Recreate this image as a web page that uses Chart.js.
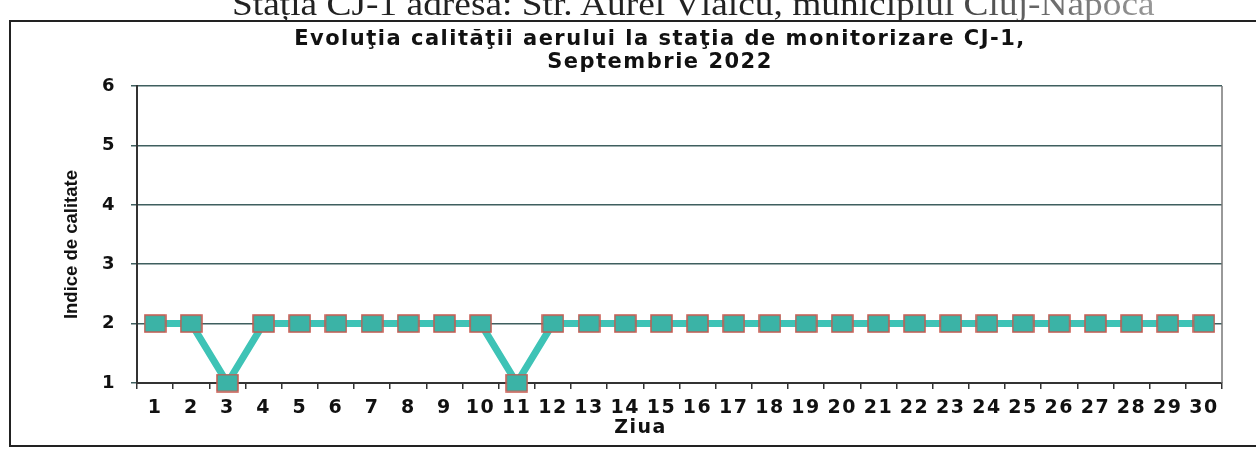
<!DOCTYPE html>
<html>
<head>
<meta charset="utf-8">
<script src="https://cdn.jsdelivr.net/npm/chart.js@4.4.1/dist/chart.umd.min.js"></script>
<style>
  html, body { margin: 0; padding: 0; background: #fff; overflow: hidden; width: 1256px; height: 450px; }
  #caption {
    position: absolute; left: 232px; top: -13px; white-space: nowrap;
    font-family: "Liberation Serif", "DejaVu Serif", serif; font-size: 34px; line-height: 34px;
    transform: scaleX(1.1); transform-origin: left top;
    background: linear-gradient(to right, #222 0%, #222 70%, #999 100%);
    -webkit-background-clip: text; background-clip: text; color: transparent;
  }
  #frame {
    position: absolute; left: 9px; top: 20px; width: 1300px; height: 427px;
    border: 2px solid #222; box-sizing: border-box; background: #fff;
  }
  #frame canvas { display: block; }
</style>
</head>
<body>
<div id="caption">Stația CJ-1 adresa: Str. Aurel Vlaicu, municipiul Cluj-Napoca</div>
<div id="frame"><canvas id="chart" width="1296" height="423"></canvas></div>
<script>
// Zilele lunii si indicele de calitate
const days = ['1','2','3','4','5','6','7','8','9','10','11','12','13','14','15','16','17','18','19','20','21','22','23','24','25','26','27','28','29','30'];
const qualityIndex = [2, 2, 1, 2, 2, 2, 2, 2, 2, 2, 1, 2, 2, 2, 2, 2, 2, 2, 2, 2, 2, 2, 2, 2, 2, 2, 2, 2, 2, 2];
const yTicks = [1, 2, 3, 4, 5, 6];

const titleLines = ['Evoluţia calităţii aerului la staţia de monitorizare CJ-1,', 'Septembrie 2022'];
const xTitle = 'Ziua';
const yTitle = 'Indice de calitate';

const wide = 'DejaVu Sans, Verdana, sans-serif';
const sans = 'Liberation Sans, Arial, sans-serif';

// Marker: dreptunghi turcoaz cu contur rosu
function makeMarker() {
    const c = document.createElement('canvas');
    c.width = 23; c.height = 19;
    const g = c.getContext('2d');
    g.fillStyle = '#3bb3a6';
    g.fillRect(1, 1, 21, 17);
    g.strokeStyle = '#c8584e';
    g.lineWidth = 1.5;
    g.strokeRect(1, 1, 21, 17);
    return c;
}

// Contur dreapta + titlurile axelor (asezate ca in Excel)
const extras = {
    id: 'extras',
    beforeDraw(chart) {
        chart.ctx.letterSpacing = '1.5px'; // textul scanat e mai lat
    },
    afterDraw(chart) {
        const a = chart.chartArea, ctx = chart.ctx;
        ctx.save();
        ctx.strokeStyle = '#777';
        ctx.lineWidth = 1.5;
        ctx.beginPath();
        ctx.moveTo(a.right, a.top);
        ctx.lineTo(a.right, a.bottom);
        ctx.stroke();

        ctx.fillStyle = '#111';
        ctx.textAlign = 'center';
        ctx.textBaseline = 'middle';
        ctx.font = 'bold 19px ' + wide;
        ctx.fillText(xTitle, (a.left + a.right) / 2 - 39, a.bottom + 45);

        ctx.letterSpacing = '0px';
        ctx.translate(61, (a.top + a.bottom) / 2 + 10);
        ctx.rotate(-Math.PI / 2);
        ctx.font = 'bold 18.5px ' + sans;
        ctx.fillText(yTitle, 0, 0);
        ctx.restore();
        ctx.letterSpacing = '0px';
    }
};

const ctx = document.getElementById('chart').getContext('2d');
new Chart(ctx, {
    type: 'line',
    data: {
        labels: days,
        datasets: [{
            label: yTitle,
            data: qualityIndex,
            borderColor: '#3ec3b6',
            borderWidth: 7,
            pointStyle: makeMarker(),
            pointRadius: 10,
            tension: 0,
            fill: false,
            clip: false
        }]
    },
    options: {
        responsive: false,
        animation: false,
        layout: { padding: { left: 87, right: 85, top: 0, bottom: 0 } },
        plugins: {
            legend: { display: false },
            tooltip: { enabled: false },
            title: {
                display: true,
                text: titleLines,
                color: '#111',
                font: { family: wide, size: 21, weight: 'bold', lineHeight: 1.05 },
                padding: { top: 7, bottom: 13 }
            }
        },
        scales: {
            x: {
                offset: true,
                grid: { display: true, drawOnChartArea: false, offset: true, color: '#333', tickLength: 6, lineWidth: 1.5 },
                border: { display: true, color: '#333', width: 2 },
                ticks: { color: '#111', padding: 8, maxRotation: 0, autoSkip: false, font: { family: wide, size: 19, weight: 'bold' } },
                afterFit(scale) { scale.height = 62; }
            },
            y: {
                min: 1,
                max: 6,
                afterBuildTicks(scale) { scale.ticks = yTicks.map(v => ({ value: v })); },
                grid: { color: '#3f5f5f', lineWidth: 1.5, tickLength: 6 },
                border: { display: true, color: '#333', width: 2 },
                ticks: { color: '#111', padding: 15, font: { family: wide, size: 18, weight: 'bold' } },
                afterFit(scale) { scale.width = 39; }
            }
        }
    },
    plugins: [extras]
});
</script>
</body>
</html>
